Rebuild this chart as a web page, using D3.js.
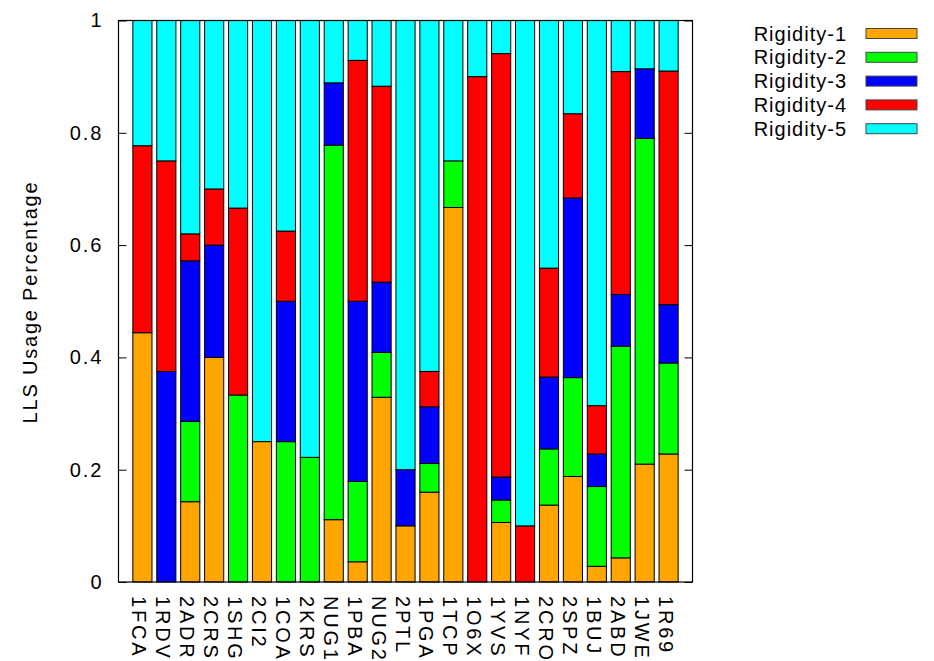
<!DOCTYPE html>
<html>
<head>
<meta charset="utf-8">
<script src="https://cdn.jsdelivr.net/npm/d3@7"></script>
<style>
  body { margin: 0; background: #fff; }
  text { font-family: "Liberation Sans", Arial, sans-serif; fill: #000; }
</style>
</head>
<body>
<svg id="chart" width="934" height="661"></svg>
<script>
var categories = ["1FCA","1RDV","2ADR","2CRS","1SHG","2CI2","1COA","2KRS","NUG1","1PBA","NUG2","2PTL",
  "1PGA","1TCP","1O6X","1YVS","1NYF","2CRO","2SPZ","1BUJ","2ABD","1JWE","1R69"]

var rigidity1 = [0.444,0,0.143,0.4,0,0.25,0,0,0.111,0.036,0.329,0.1,0.16,0.667,0,0.106,0,0.137,0.188,0.028,0.043,0.21,0.228]
var rigidity2 = [0,0,0.143,0,0.333,0,0.25,0.222,0.667,0.143,0.08,0,0.051,0.083,0,0.04,0,0.1,0.176,0.142,0.377,0.58,0.162]
var rigidity3 = [0,0.375,0.286,0.2,0,0,0.25,0,0.111,0.321,0.125,0.1,0.101,0,0,0.041,0,0.128,0.32,0.058,0.092,0.124,0.104]
var rigidity4 = [0.333,0.375,0.048,0.1,0.333,0,0.125,0,0,0.429,0.349,0,0.063,0,0.9,0.754,0.1,0.194,0.15,0.086,0.397,0,0.416]
var rigidity5 = [0.223,0.25,0.38,0.3,0.334,0.75,0.375,0.778,0.111,0.071,0.117,0.8,0.625,0.25,0.1,0.059,0.9,0.441,0.166,0.686,0.091,0.086,0.09]

var seriesNames = ["Rigidity-1","Rigidity-2","Rigidity-3","Rigidity-4","Rigidity-5"]
var seriesColours = ["#ffa500","#00ff00","#0000ff","#ff0000","#00ffff"]
var yTicks = [0, 0.2, 0.4, 0.6, 0.8, 1]

// rows for d3.stack
var rows = categories.map(function(c, i){
  return {
    name: c,
    "Rigidity-1": rigidity1[i],
    "Rigidity-2": rigidity2[i],
    "Rigidity-3": rigidity3[i],
    "Rigidity-4": rigidity4[i],
    "Rigidity-5": rigidity5[i]
  }
})

var plot = {left: 118.5, right: 692.5, top: 20.5, bottom: 582}

var x = d3.scaleLinear()
  .domain([-1, categories.length])
  .range([plot.left, plot.right])

var y = d3.scaleLinear()
  .domain([0, 1])
  .range([plot.bottom, plot.top])

var colour = d3.scaleOrdinal()
  .domain(seriesNames)
  .range(seriesColours)

var barWidth = 0.8

var svg = d3.select("#chart")

var stacked = d3.stack().keys(seriesNames)(rows)

svg.append("g")
  .selectAll("g")
  .data(stacked)
  .enter()
  .append("g")
  .attr("fill", function(d){ return colour(d.key) })
  .selectAll("rect")
  .data(function(d){ return d })
  .enter()
  .filter(function(d){ return d[1] - d[0] > 0 })
  .append("rect")
  .attr("x", function(d){ return x(categories.indexOf(d.data.name) - barWidth/2) })
  .attr("width", x(barWidth) - x(0))
  .attr("y", function(d){ return y(d[1]) })
  .attr("height", function(d){ return y(d[0]) - y(d[1]) })
  .attr("stroke", "#000")
  .attr("stroke-width", 1)

/* frame and ticks */
svg.append("rect")
  .attr("x", plot.left)
  .attr("y", plot.top)
  .attr("width", plot.right - plot.left)
  .attr("height", plot.bottom - plot.top)
  .attr("fill", "none")
  .attr("stroke", "#000")
  .attr("stroke-width", 1.2)

var yAxisL = d3.axisLeft(y)
  .tickValues(yTicks)
  .tickSizeInner(-8)
  .tickSizeOuter(0)
  .tickPadding(15)
  .tickFormat(d3.format("~g"))

var gL = svg.append("g")
  .attr("transform", "translate(" + plot.left + ",0)")
  .call(yAxisL)
gL.select(".domain").remove()
gL.selectAll("line").attr("stroke", "#000")
gL.selectAll("text")
  .attr("font-size", 20)
  .attr("letter-spacing", 2)
  .attr("font-family", "Liberation Sans, Arial, sans-serif")

var gR = svg.append("g")
  .attr("transform", "translate(" + plot.right + ",0)")
  .call(d3.axisRight(y).tickValues(yTicks).tickSizeInner(-8).tickSizeOuter(0).tickFormat(""))
gR.select(".domain").remove()
gR.selectAll("line").attr("stroke", "#000")

/* x labels, rotated */
svg.append("g")
  .selectAll("text")
  .data(categories)
  .enter()
  .append("text")
  .attr("transform", function(d, i){ return "translate(" + (x(i) - 3) + "," + (plot.bottom + 14) + ") rotate(90)" })
  .attr("dy", "0.35em")
  .attr("font-size", 20)
  .attr("letter-spacing", 2.8)
  .text(function(d){ return d })

/* y label */
svg.append("text")
  .attr("transform", "translate(37,302) rotate(-90)")
  .attr("text-anchor", "middle")
  .attr("font-size", 20)
  .attr("letter-spacing", 1.8)
  .text("LLS Usage Percentage")

/* legend */
var legend = svg.append("g")
  .selectAll("g")
  .data(seriesNames)
  .enter()
  .append("g")
  .attr("transform", function(d, i){ return "translate(0," + (33.5 + i*23.8) + ")" })

legend.append("text")
  .attr("x", 847)
  .attr("dy", "0.35em")
  .attr("text-anchor", "end")
  .attr("font-size", 20)
  .attr("letter-spacing", 1)
  .text(function(d){ return d })

legend.append("rect")
  .attr("x", 866)
  .attr("y", -5)
  .attr("width", 51)
  .attr("height", 10)
  .attr("fill", function(d){ return colour(d) })
  .attr("stroke", "#444")
  .attr("stroke-width", 1)
</script>
</body>
</html>
